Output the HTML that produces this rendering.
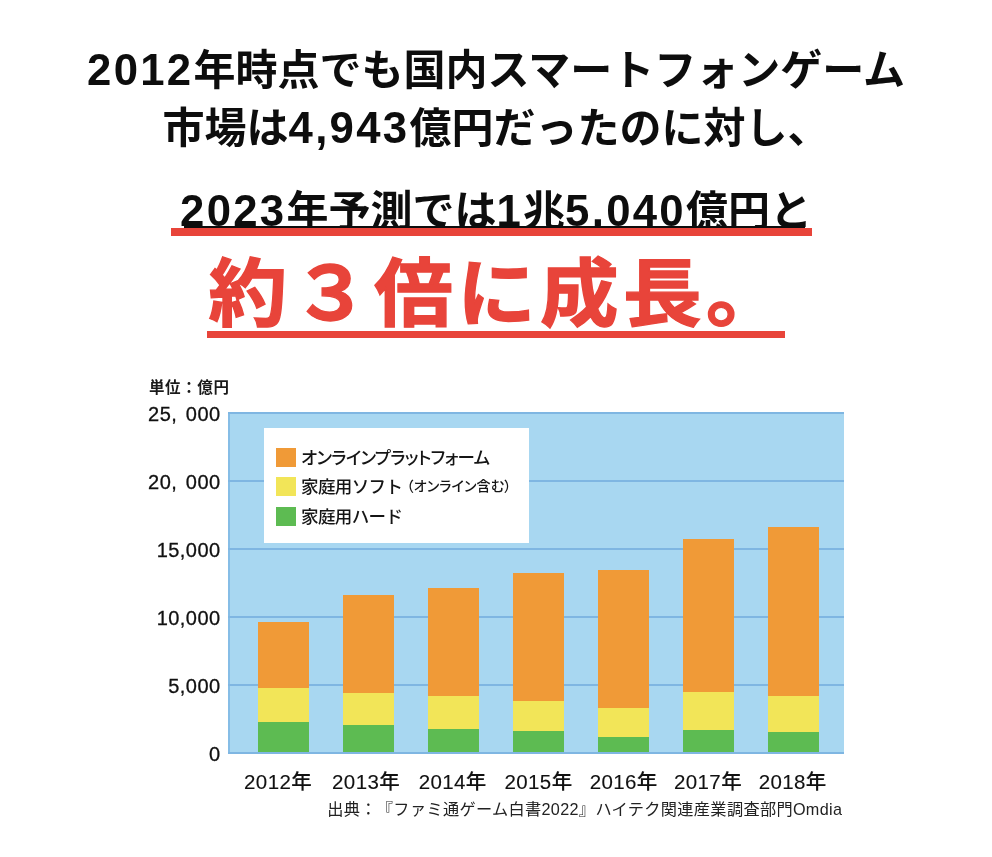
<!DOCTYPE html>
<html lang="ja">
<head>
<meta charset="utf-8">
<title>国内スマートフォンゲーム市場</title>
<style>
html,body{margin:0;padding:0;background:#fff;}
body{width:992px;height:857px;position:relative;overflow:hidden;font-family:"Liberation Sans","Noto Sans CJK JP",sans-serif;color:#111;}
.abs{position:absolute;white-space:nowrap;}
.h{font-weight:700;font-size:42px;line-height:58px;color:#0d0d0d;left:0;width:992px;text-align:center;}
.h .d{font-size:43.7px;letter-spacing:2.3px;line-height:0;}
#l1{top:42px;}
#l2{top:100px;}
#l3{top:183px;}
#blackline{left:184px;top:225.5px;width:621px;height:2.5px;background:#0d0d0d;}
#redbar{left:171px;top:228px;width:641px;height:8px;background:#e8443a;}
#big{left:208.5px;top:246.5px;font-size:78.5px;line-height:100px;font-weight:700;color:#e8443a;-webkit-text-stroke:1.4px #e8443a;letter-spacing:4.4px;transform:scaleY(0.945);transform-origin:0 0;}
#bigline{left:207px;top:331px;width:577.5px;height:6.5px;background:#e8443a;}
/* chart */
#plot{left:228px;top:412px;width:616px;height:341px;background:#a8d7f1;box-sizing:border-box;border-left:2px solid #86bde6;}
.grid{left:228px;width:616px;height:2px;background:#7fb6e2;}
.yl{font-size:20px;line-height:24px;text-align:right;width:120px;left:100.6px;color:#111;word-spacing:2.6px;letter-spacing:.45px;-webkit-text-stroke:.3px #111;}
.xl{font-size:20.5px;line-height:24px;top:769.7px;width:100px;text-align:center;color:#111;letter-spacing:.4px;font-weight:500;-webkit-text-stroke:.12px #111;}
.bar{width:51px;}
.o{background:#f09a37;}
.y{background:#f2e558;}
.g{background:#5dbb52;}
#legend{left:264px;top:428px;width:265px;height:115px;background:#fff;}
.sw{left:276px;width:20px;height:19px;}
.lt{left:301px;font-size:17.5px;line-height:24px;color:#151515;letter-spacing:-.6px;font-weight:500;}
.lt.p{font-feature-settings:"palt";letter-spacing:-.67px;}
.sm{position:absolute;left:105.5px;top:-1px;font-size:14px;font-feature-settings:"palt";letter-spacing:.15px;font-weight:500;}
#unit{left:149px;top:376px;letter-spacing:.6px;font-size:15.5px;line-height:24px;font-weight:700;color:#1a1a1a;}
#src{left:327.3px;top:797px;font-size:16.2px;letter-spacing:.33px;text-spacing-trim:space-all;line-height:24px;color:#222;}
</style>
</head>
<body>
<div class="abs h" id="l1"><span class="d">2012</span>年時点でも国内スマートフォンゲーム</div>
<div class="abs h" id="l2">市場は<span class="d">4,943</span>億円だったのに対し、</div>
<div class="abs h" id="l3"><span class="d">2023</span>年予測では<span class="d">1</span>兆<span class="d">5,040</span>億円と</div>
<div class="abs" id="blackline"></div>
<div class="abs" id="redbar"></div>
<div class="abs" id="big">約３倍に成長。</div>
<div class="abs" id="bigline"></div>

<div class="abs" id="unit">単位：億円</div>
<div class="abs" id="plot"></div>
<div class="abs grid" style="top:412px"></div>
<div class="abs grid" style="top:480px"></div>
<div class="abs grid" style="top:548px"></div>
<div class="abs grid" style="top:616px"></div>
<div class="abs grid" style="top:684px"></div>
<div class="abs grid" style="top:752px"></div>

<div class="abs yl" style="top:402px">25, 000</div>
<div class="abs yl" style="top:470px">20, 000</div>
<div class="abs yl" style="top:538px">15,000</div>
<div class="abs yl" style="top:606px">10,000</div>
<div class="abs yl" style="top:674px">5,000</div>
<div class="abs yl" style="top:742px">0</div>

<div class="abs" id="legend"></div>
<div class="abs sw o" style="top:448px"></div>
<div class="abs sw y" style="top:477px"></div>
<div class="abs sw g" style="top:507px"></div>
<div class="abs lt p" style="top:446px">オンラインプラットフォーム</div>
<div class="abs lt" style="top:475px">家庭用ソフト<span class="sm">（オンライン含む）</span></div>
<div class="abs lt" style="top:505px">家庭用ハード</div>

<!-- bars inserted -->
<div id="bars">
<div class="abs bar o" style="left:257.5px;top:622.2px;height:129.8px"></div>
<div class="abs bar y" style="left:257.5px;top:687.7px;height:64.3px"></div>
<div class="abs bar g" style="left:257.5px;top:722.0px;height:30.0px"></div>
<div class="abs bar o" style="left:342.8px;top:595.0px;height:157.0px"></div>
<div class="abs bar y" style="left:342.8px;top:693.2px;height:58.8px"></div>
<div class="abs bar g" style="left:342.8px;top:725.0px;height:27.0px"></div>
<div class="abs bar o" style="left:427.7px;top:588.0px;height:164.0px"></div>
<div class="abs bar y" style="left:427.7px;top:695.7px;height:56.3px"></div>
<div class="abs bar g" style="left:427.7px;top:728.6px;height:23.4px"></div>
<div class="abs bar o" style="left:512.9px;top:573.1px;height:178.9px"></div>
<div class="abs bar y" style="left:512.9px;top:701.2px;height:50.8px"></div>
<div class="abs bar g" style="left:512.9px;top:730.9px;height:21.1px"></div>
<div class="abs bar o" style="left:597.8px;top:570.0px;height:182.0px"></div>
<div class="abs bar y" style="left:597.8px;top:707.6px;height:44.4px"></div>
<div class="abs bar g" style="left:597.8px;top:736.5px;height:15.5px"></div>
<div class="abs bar o" style="left:683.0px;top:539.4px;height:212.6px"></div>
<div class="abs bar y" style="left:683.0px;top:692.0px;height:60.0px"></div>
<div class="abs bar g" style="left:683.0px;top:729.5px;height:22.5px"></div>
<div class="abs bar o" style="left:768.0px;top:527.1px;height:224.9px"></div>
<div class="abs bar y" style="left:768.0px;top:695.5px;height:56.5px"></div>
<div class="abs bar g" style="left:768.0px;top:732.0px;height:20.0px"></div>
</div><!-- /bars -->

<div class="abs xl" style="left:228.1px">2012年</div>
<div class="abs xl" style="left:316.1px">2013年</div>
<div class="abs xl" style="left:402.7px">2014年</div>
<div class="abs xl" style="left:488.5px">2015年</div>
<div class="abs xl" style="left:573.7px">2016年</div>
<div class="abs xl" style="left:658.0px">2017年</div>
<div class="abs xl" style="left:742.7px">2018年</div>

<div class="abs" id="src">出典：『ファミ通ゲーム白書2022』ハイテク関連産業調査部門Omdia</div>
</body>
</html>
